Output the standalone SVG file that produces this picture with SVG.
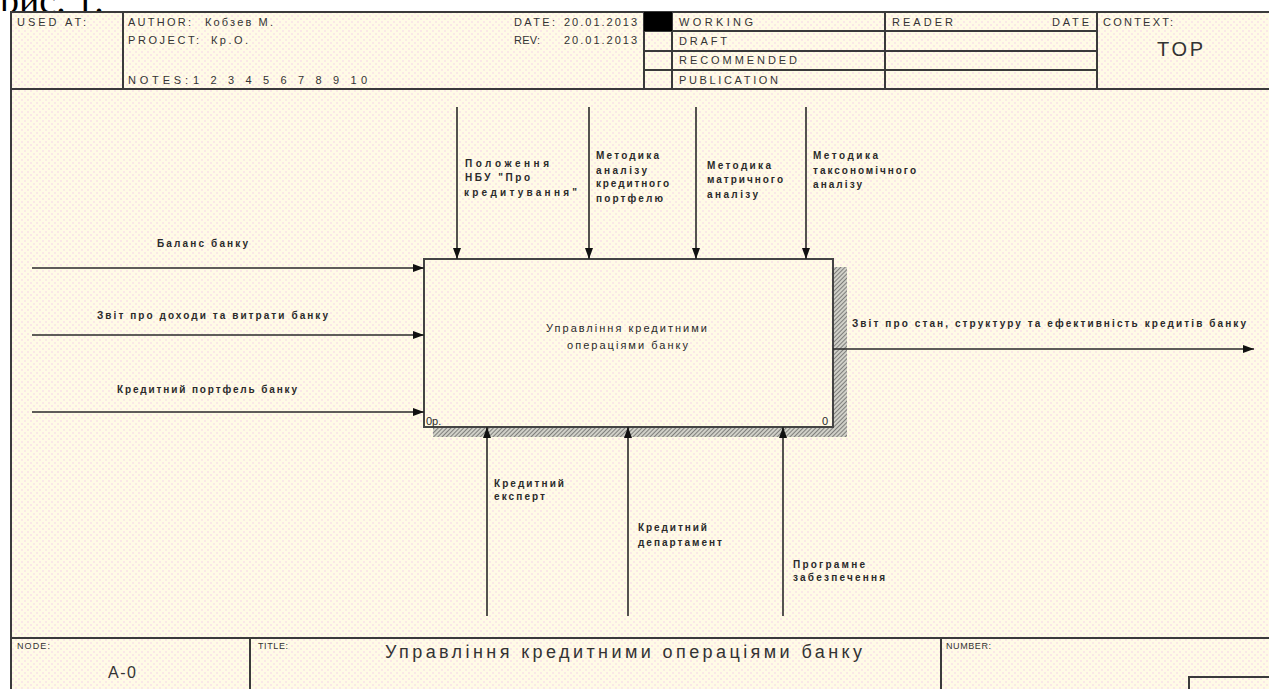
<svg xmlns="http://www.w3.org/2000/svg" width="1269" height="689" viewBox="0 0 1269 689">
  <style>
    .frame { fill: none; stroke: #3a3a3a; stroke-width: 2; }
    .rule { stroke: #3a3a3a; stroke-width: 2; }
    .hdr { font-family: "Liberation Sans", Arial, sans-serif; font-size: 11px; fill: #333; }
    .small { font-family: "Liberation Sans", Arial, sans-serif; font-size: 9px; fill: #333; }
    .lbl { font-family: "Liberation Sans", Arial, sans-serif; font-size: 10px; font-weight: bold; fill: #2a2a2a; }
    .name { font-family: "Liberation Sans", Arial, sans-serif; font-size: 11px; fill: #2a2a2a; }
    .big { font-family: "Liberation Sans", Arial, sans-serif; fill: #333; }
    .arrow { stroke: #2a2a2a; stroke-width: 1.6; fill: none; marker-end: url(#head); }
    .box { fill: none; stroke: #444; stroke-width: 2; }
  </style>
  <defs>
    <pattern id="paper" width="6" height="6" patternUnits="userSpaceOnUse">
      <rect width="6" height="6" fill="#fffbe6"/>
      <circle cx="1" cy="1" r="0.7" fill="#f3c6ea"/>
      <circle cx="4" cy="4" r="0.7" fill="#f3c6ea"/>
    </pattern>
    <pattern id="hatch" width="3" height="3" patternUnits="userSpaceOnUse" patternTransform="rotate(45)">
      <rect width="3" height="3" fill="#d0d0c8"/>
      <line x1="0" y1="0" x2="0" y2="3" stroke="#5a5a5a" stroke-width="1.4"/>
    </pattern>
    <marker id="head" markerWidth="12" markerHeight="10" refX="11" refY="5" orient="auto" markerUnits="userSpaceOnUse">
      <path d="M0,1 L11,5 L0,9 Z" fill="#111"/>
    </marker>
    <clipPath id="above-frame">
      <rect x="0" y="0" width="1269" height="11"/>
    </clipPath>
  </defs>

  <!-- page -->
  <rect width="1269" height="689" fill="#ffffff"/>
  <text x="0" y="13" clip-path="url(#above-frame)" font-family="'Liberation Serif', 'Times New Roman', serif" font-size="38" fill="#000">рис. 1.</text>
  <rect x="11" y="12" width="1262" height="681" fill="url(#paper)"/>

  <!-- header block -->
  <g id="header">
    <path class="frame" d="M11,689 V12 H1270"/>
    <line class="rule" x1="11" y1="89" x2="1270" y2="89"/>
    <line class="rule" x1="123" y1="12" x2="123" y2="89"/>
    <line class="rule" x1="644" y1="12" x2="644" y2="89"/>
    <line class="rule" x1="672" y1="12" x2="672" y2="89"/>
    <line class="rule" x1="885" y1="12" x2="885" y2="89"/>
    <line class="rule" x1="1097" y1="12" x2="1097" y2="89"/>
    <line class="rule" x1="644" y1="31" x2="1097" y2="31"/>
    <line class="rule" x1="644" y1="51" x2="1097" y2="51"/>
    <line class="rule" x1="644" y1="70" x2="1097" y2="70"/>
    <rect x="644" y="12" width="28" height="19" fill="#000"/>

    <text class="hdr" x="17" y="26" textLength="69" lengthAdjust="spacing">USED AT:</text>
    <text class="hdr" x="128" y="26" textLength="63" lengthAdjust="spacing">AUTHOR:</text>
    <text class="hdr" x="205" y="26" textLength="68" lengthAdjust="spacing">Кобзев М.</text>
    <text class="hdr" x="128" y="44" textLength="71" lengthAdjust="spacing">PROJECT:</text>
    <text class="hdr" x="211" y="44" textLength="37" lengthAdjust="spacing">Кр.О.</text>
    <text class="hdr" x="128" y="84" textLength="60" lengthAdjust="spacing">NOTES:</text>
    <text class="hdr" x="193" y="84" textLength="174" lengthAdjust="spacing">1 2 3 4 5 6 7 8 9 10</text>

    <text class="hdr" x="514" y="26" textLength="41" lengthAdjust="spacing">DATE:</text>
    <text class="hdr" x="564" y="26" textLength="73" lengthAdjust="spacing">20.01.2013</text>
    <text class="hdr" x="514" y="44" textLength="26" lengthAdjust="spacing">REV:</text>
    <text class="hdr" x="564" y="44" textLength="73" lengthAdjust="spacing">20.01.2013</text>

    <text class="hdr" x="679" y="26" textLength="74" lengthAdjust="spacing">WORKING</text>
    <text class="hdr" x="679" y="45" textLength="48" lengthAdjust="spacing">DRAFT</text>
    <text class="hdr" x="679" y="64" textLength="118" lengthAdjust="spacing">RECOMMENDED</text>
    <text class="hdr" x="679" y="84" textLength="99" lengthAdjust="spacing">PUBLICATION</text>

    <text class="hdr" x="892" y="26" textLength="61" lengthAdjust="spacing">READER</text>
    <text class="hdr" x="1052" y="26" textLength="37" lengthAdjust="spacing">DATE</text>
    <text class="hdr" x="1103" y="26" textLength="70" lengthAdjust="spacing">CONTEXT:</text>
    <text class="big" x="1157" y="56" font-size="20" textLength="46" lengthAdjust="spacing">TOP</text>
  </g>

  <!-- footer block -->
  <g id="footer">
    <line class="rule" x1="11" y1="638" x2="1270" y2="638"/>
    <line class="rule" x1="250" y1="638" x2="250" y2="690"/>
    <line class="rule" x1="941" y1="638" x2="941" y2="690"/>
    <path class="frame" d="M1189,690 V677 H1270"/>
    <text class="small" x="17" y="649" textLength="33" lengthAdjust="spacing">NODE:</text>
    <text class="big" x="108" y="678" font-size="16" textLength="28" lengthAdjust="spacing">A-0</text>
    <text class="small" x="258" y="649" textLength="30" lengthAdjust="spacing">TITLE:</text>
    <text class="big" x="385" y="658" font-size="18" textLength="477" lengthAdjust="spacing">Управління кредитними  операціями банку</text>
    <text class="small" x="946" y="649" textLength="45" lengthAdjust="spacing">NUMBER:</text>
  </g>

  <!-- activity box A0 -->
  <g id="A0">
    <rect x="834" y="267" width="13" height="170" fill="url(#hatch)"/>
    <rect x="433" y="428" width="414" height="9" fill="url(#hatch)"/>
    <rect class="box" x="424" y="259" width="409" height="168"/>
    <text class="name" x="546" y="332" textLength="161" lengthAdjust="spacing">Управління кредитними</text>
    <text class="name" x="567" y="349" textLength="121" lengthAdjust="spacing">операціями банку</text>
    <text class="name" x="426" y="425" font-size="10">0р.</text>
    <text class="name" x="822" y="425" font-size="10">0</text>
  </g>

  <!-- connectors -->
  <g id="connectors">
    <!-- inputs -->
    <line class="arrow" x1="32" y1="268" x2="424" y2="268"/>
    <line class="arrow" x1="32" y1="335" x2="424" y2="335"/>
    <line class="arrow" x1="32" y1="412" x2="424" y2="412"/>
    <!-- controls -->
    <line class="arrow" x1="457" y1="107" x2="457" y2="259"/>
    <line class="arrow" x1="589" y1="107" x2="589" y2="259"/>
    <line class="arrow" x1="696" y1="107" x2="696" y2="259"/>
    <line class="arrow" x1="806" y1="107" x2="806" y2="259"/>
    <!-- output -->
    <line class="arrow" x1="833" y1="349" x2="1254" y2="349"/>
    <!-- mechanisms -->
    <line class="arrow" x1="487" y1="616" x2="487" y2="427"/>
    <line class="arrow" x1="628" y1="616" x2="628" y2="427"/>
    <line class="arrow" x1="783" y1="616" x2="783" y2="427"/>
  </g>

  <!-- connector labels -->
  <g id="labels">
    <text class="lbl" x="157" y="247" textLength="91" lengthAdjust="spacing">Баланс банку</text>
    <text class="lbl" x="97" y="319" textLength="231" lengthAdjust="spacing">Звіт про доходи та витрати банку</text>
    <text class="lbl" x="117" y="393" textLength="180" lengthAdjust="spacing">Кредитний портфель банку</text>

    <text class="lbl" x="852" y="327" textLength="394" lengthAdjust="spacing">Звіт про стан, структуру та ефективність кредитів банку</text>

    <text class="lbl" x="465" y="167" textLength="84" lengthAdjust="spacing">Положення</text>
    <text class="lbl" x="465" y="181" textLength="65" lengthAdjust="spacing">НБУ "Про</text>
    <text class="lbl" x="464" y="196" textLength="113" lengthAdjust="spacing">кредитування"</text>

    <text class="lbl" x="596" y="159" textLength="63" lengthAdjust="spacing">Методика</text>
    <text class="lbl" x="596" y="174" textLength="51" lengthAdjust="spacing">аналізу</text>
    <text class="lbl" x="596" y="187" textLength="73" lengthAdjust="spacing">кредитного</text>
    <text class="lbl" x="596" y="202" textLength="67" lengthAdjust="spacing">портфелю</text>

    <text class="lbl" x="707" y="169" textLength="64" lengthAdjust="spacing">Методика</text>
    <text class="lbl" x="707" y="183" textLength="76" lengthAdjust="spacing">матричного</text>
    <text class="lbl" x="707" y="198" textLength="51" lengthAdjust="spacing">аналізу</text>

    <text class="lbl" x="813" y="159" textLength="65" lengthAdjust="spacing">Методика</text>
    <text class="lbl" x="813" y="174" textLength="103" lengthAdjust="spacing">таксономічного</text>
    <text class="lbl" x="813" y="188" textLength="49" lengthAdjust="spacing">аналізу</text>

    <text class="lbl" x="494" y="487" textLength="70" lengthAdjust="spacing">Кредитний</text>
    <text class="lbl" x="494" y="500" textLength="51" lengthAdjust="spacing">експерт</text>
    <text class="lbl" x="638" y="531" textLength="69" lengthAdjust="spacing">Кредитний</text>
    <text class="lbl" x="638" y="546" textLength="84" lengthAdjust="spacing">департамент</text>
    <text class="lbl" x="793" y="568" textLength="72" lengthAdjust="spacing">Програмне</text>
    <text class="lbl" x="793" y="581" textLength="92" lengthAdjust="spacing">забезпечення</text>
  </g>
</svg>
